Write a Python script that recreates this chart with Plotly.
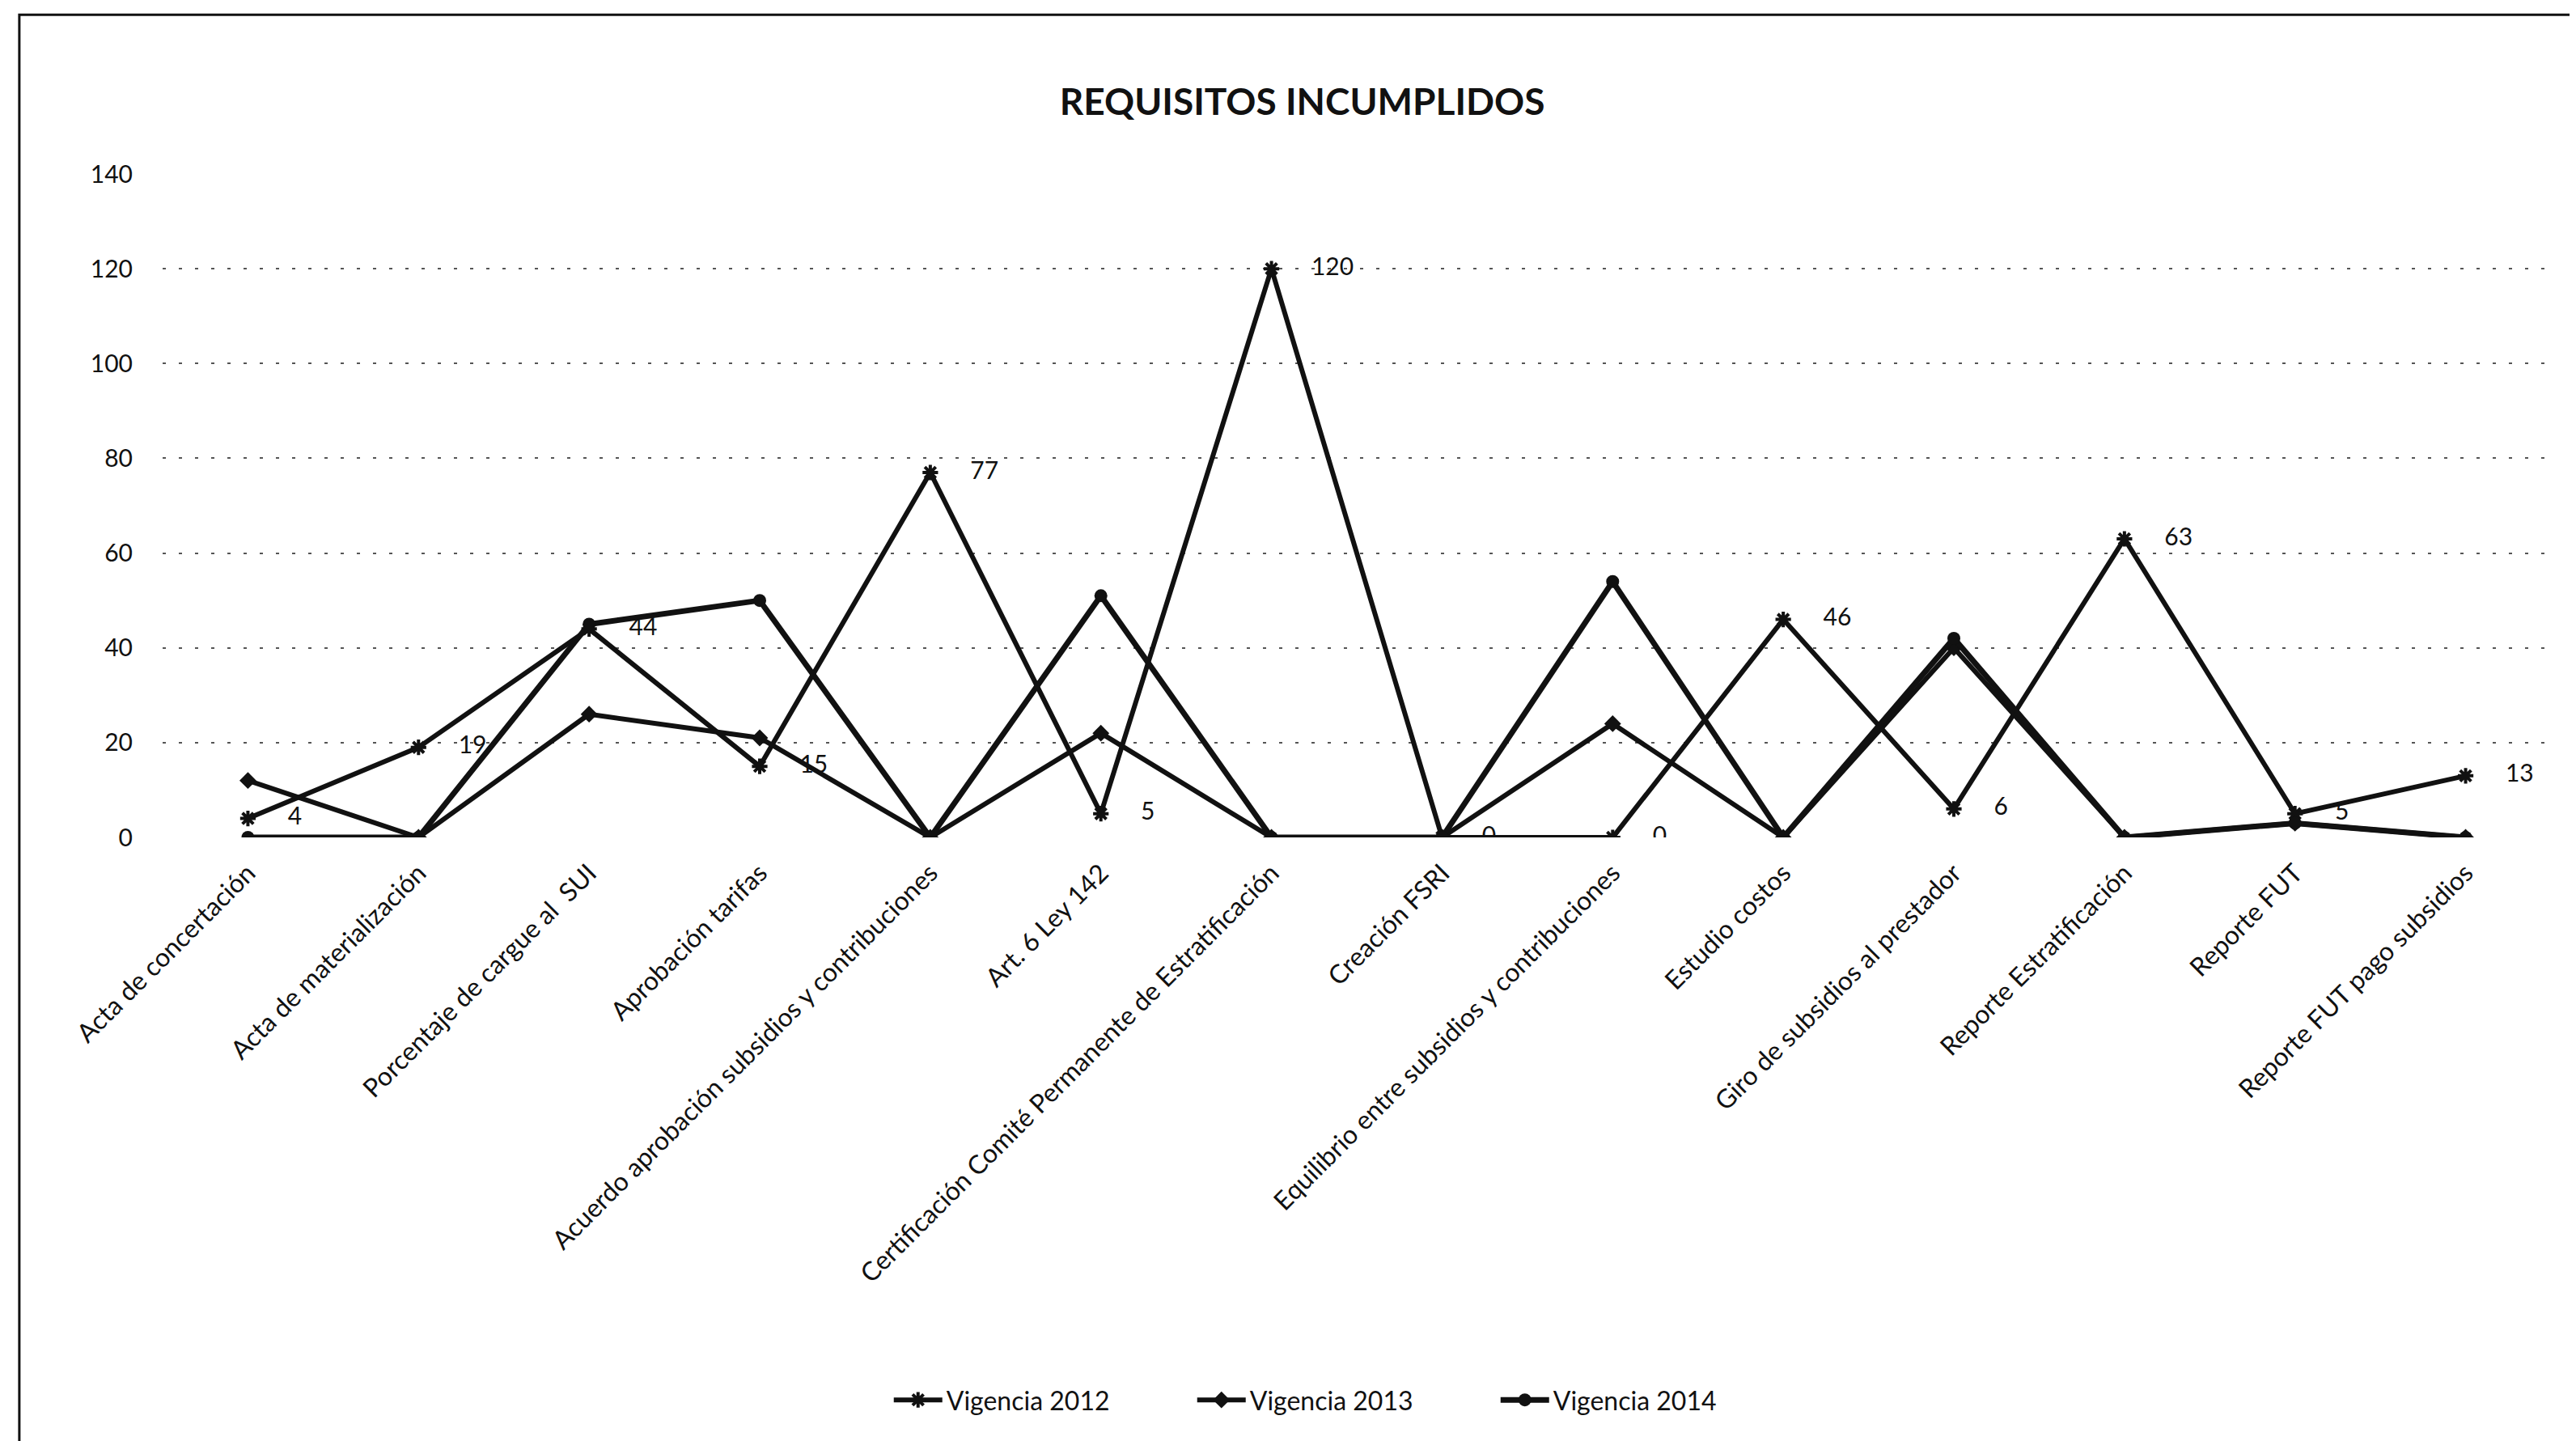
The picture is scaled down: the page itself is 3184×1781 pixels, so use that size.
import plotly.graph_objects as go

categories = [
    "Acta de concertación",
    "Acta de materialización",
    "Porcentaje de cargue al  SUI",
    "Aprobación tarifas",
    "Acuerdo aprobación subsidios y contribuciones",
    "Art. 6 Ley 142",
    "Certificación Comité Permanente de Estratificación",
    "Creación FSRI",
    "Equilibrio entre subsidios y contribuciones",
    "Estudio costos",
    "Giro de subsidios al prestador",
    "Reporte Estratificación",
    "Reporte FUT",
    "Reporte FUT pago subsidios",
]
vig_2012 = [4, 19, 44, 15, 77, 5, 120, 0, 0, 46, 6, 63, 5, 13]
vig_2013 = [12, 0, 26, 21, 0, 22, 0, 0, 24, 0, 40, 0, 3, 0]
vig_2014 = [0, 0, 45, 50, 0, 51, 0, 0, 54, 0, 42, 0, 3, 0]
y_ticks = [0, 20, 40, 60, 80, 100, 120, 140]

FONT = "Lato"
INK = "#111111"
fig = go.Figure()
fig.add_trace(go.Scatter(
    x=categories, y=vig_2012, name="Vigencia 2012", mode="lines+markers+text",
    line=dict(color=INK, width=6),
    marker=dict(symbol="asterisk", size=16, color=INK, line=dict(color=INK, width=4)),
    text=[str(v) for v in vig_2012], texttemplate="     %{text}", textposition="middle right",
    textfont=dict(family=FONT, size=30, color=INK),
))
fig.add_trace(go.Scatter(
    x=categories, y=vig_2013, name="Vigencia 2013", mode="lines+markers",
    line=dict(color=INK, width=6),
    marker=dict(symbol="diamond", size=16, color=INK),
))
fig.add_trace(go.Scatter(
    x=categories, y=vig_2014, name="Vigencia 2014", mode="lines+markers",
    line=dict(color=INK, width=7),
    marker=dict(symbol="circle", size=16, color=INK),
))

fig.update_layout(
    width=3184, height=1781,
    paper_bgcolor="white", plot_bgcolor="white",
    margin=dict(l=193, r=39, t=207, b=754),
    font=dict(family=FONT, size=30, color=INK),
    title=dict(text="<b>REQUISITOS INCUMPLIDOS</b>", x=0.503, xanchor="center",
               y=0.934, yanchor="middle", yref="container",
               font=dict(family=FONT, size=46, color=INK)),
    showlegend=True,
    legend=dict(orientation="h", x=0.495, xanchor="center", y=-0.848, yanchor="middle",
                font=dict(family=FONT, size=32, color=INK),
                entrywidth=300, entrywidthmode="pixels", itemwidth=60),
    xaxis=dict(type="category", tickangle=-45, showgrid=False, showline=False,
               ticks="", automargin=False, tickfont=dict(family=FONT, size=32, color=INK),
               ticklabelstandoff=18,
               range=[-0.5, len(categories) - 0.5]),
    yaxis=dict(range=[0, 140], tickvals=y_ticks, showgrid=True, gridcolor="#555555",
               griddash="4px,16px", gridwidth=1.5, zeroline=False, showline=False,
               ticks="", automargin=False, ticklabelstandoff=36,
               tickfont=dict(family=FONT, size=30, color=INK)),
    shapes=[dict(type="rect", xref="paper", yref="paper",
                 x0=-0.06, x1=1.02, y0=-0.95, y1=1.24,
                 line=dict(color=INK, width=3), fillcolor="rgba(0,0,0,0)", layer="below")],
)

fig.write_html("out.html")
